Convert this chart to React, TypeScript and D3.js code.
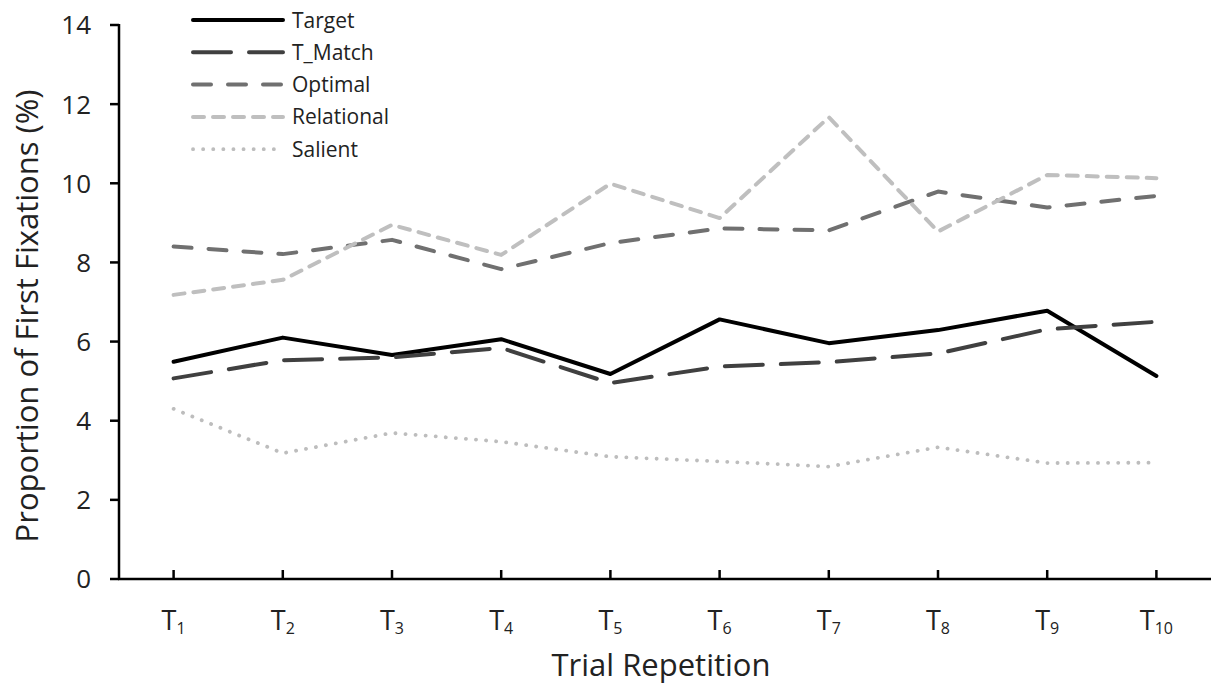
import React from "react";
import * as d3 from "d3";

const categories = ["1", "2", "3", "4", "5", "6", "7", "8", "9", "10"];
const target = [5.49, 6.1, 5.66, 6.06, 5.18, 6.56, 5.96, 6.29, 6.78, 5.13];
const tMatch = [5.07, 5.53, 5.6, 5.84, 4.95, 5.37, 5.48, 5.7, 6.31, 6.5];
const optimal = [8.4, 8.21, 8.57, 7.83, 8.49, 8.86, 8.81, 9.79, 9.39, 9.68];
const relational = [7.18, 7.56, 8.95, 8.19, 9.99, 9.12, 11.67, 8.78, 10.21, 10.13];
const salient = [4.3, 3.18, 3.69, 3.47, 3.09, 2.97, 2.84, 3.33, 2.93, 2.94];
const yTicks = [0, 2, 4, 6, 8, 10, 12, 14];

const seriesNames = ["Target", "T_Match", "Optimal", "Relational", "Salient"];
const seriesValues = [target, tMatch, optimal, relational, salient];
const seriesStyles = [
  { color: "#000000", width: 4, dash: "none", cap: "round" },
  { color: "#404040", width: 4, dash: "38 18", cap: "round" },
  { color: "#707070", width: 4, dash: "18 17", cap: "round" },
  { color: "#bfbfbf", width: 4, dash: "11 9", cap: "round" },
  { color: "#bdbdbd", width: 3.8, dash: "0.1 10", cap: "round" },
];

const FONT = "'Open Sans', sans-serif";

export default function App() {
  const W = 1211;
  const H = 689;
  const left = 119;
  const right = 1211;
  const top = 25;
  const bottom = 579;

  const x = d3.scalePoint<string>().domain(categories).range([left, right]).padding(0.5);
  const y = d3.scaleLinear().domain([0, 14]).range([bottom, top]);

  const line = d3
    .line<number>()
    .x((_, i) => x(categories[i]) as number)
    .y((d) => y(d));

  return (
    <svg width={W} height={H} style={{ position: "absolute", left: 0, top: 0, background: "#fff" }}>
      {/* series */}
      {seriesValues.map((vals, si) => {
        const st = seriesStyles[si];
        return (
          <path
            key={si}
            d={line(vals) as string}
            fill="none"
            stroke={st.color}
            strokeWidth={st.width}
            strokeDasharray={st.dash}
            strokeLinecap={st.cap as any}
            strokeLinejoin="round"
          />
        );
      })}

      {/* y axis */}
      <line x1={left} x2={left} y1={top - 1} y2={bottom} stroke="#000" strokeWidth={2.5} />
      {yTicks.map((t) => (
        <g key={t}>
          <line x1={left - 9} x2={left} y1={y(t)} y2={y(t)} stroke="#000" strokeWidth={2.5} />
          <text
            x={91}
            y={y(t)}
            dy="0.36em"
            textAnchor="end"
            fontFamily={FONT}
            fontSize={26}
            fill="#222"
          >
            {t}
          </text>
        </g>
      ))}

      {/* x axis */}
      <line x1={left - 1} x2={right} y1={bottom} y2={bottom} stroke="#000" strokeWidth={2.5} />
      {categories.map((c) => (
        <g key={c}>
          <line x1={x(c) as number} x2={x(c) as number} y1={bottom - 9} y2={bottom} stroke="#000" strokeWidth={2.5} />
          <text x={x(c) as number} y={630} textAnchor="middle" fontFamily={FONT} fontSize={27} fill="#222">
            T
            <tspan fontSize={16} dy={4}>
              {c}
            </tspan>
          </text>
        </g>
      ))}

      {/* axis titles */}
      <text x={661} y={676} textAnchor="middle" fontFamily={FONT} fontSize={31} fill="#222">
        Trial Repetition
      </text>
      <text
        transform={`translate(38, 316) rotate(-90)`}
        textAnchor="middle"
        fontFamily={FONT}
        fontSize={31}
        fill="#222"
      >
        Proportion of First Fixations (%)
      </text>

      {/* legend */}
      {seriesNames.map((name, i) => {
        const st = seriesStyles[i];
        const ly = 20 + i * 32.3;
        return (
          <g key={name}>
            <line
              x1={193}
              x2={283}
              y1={ly}
              y2={ly}
              stroke={st.color}
              strokeWidth={st.width}
              strokeDasharray={st.dash}
              strokeLinecap={st.cap as any}
            />
            <text x={292} y={ly} dy="0.36em" fontFamily={FONT} fontSize={21} fill="#222">
              {name}
            </text>
          </g>
        );
      })}
    </svg>
  );
}
